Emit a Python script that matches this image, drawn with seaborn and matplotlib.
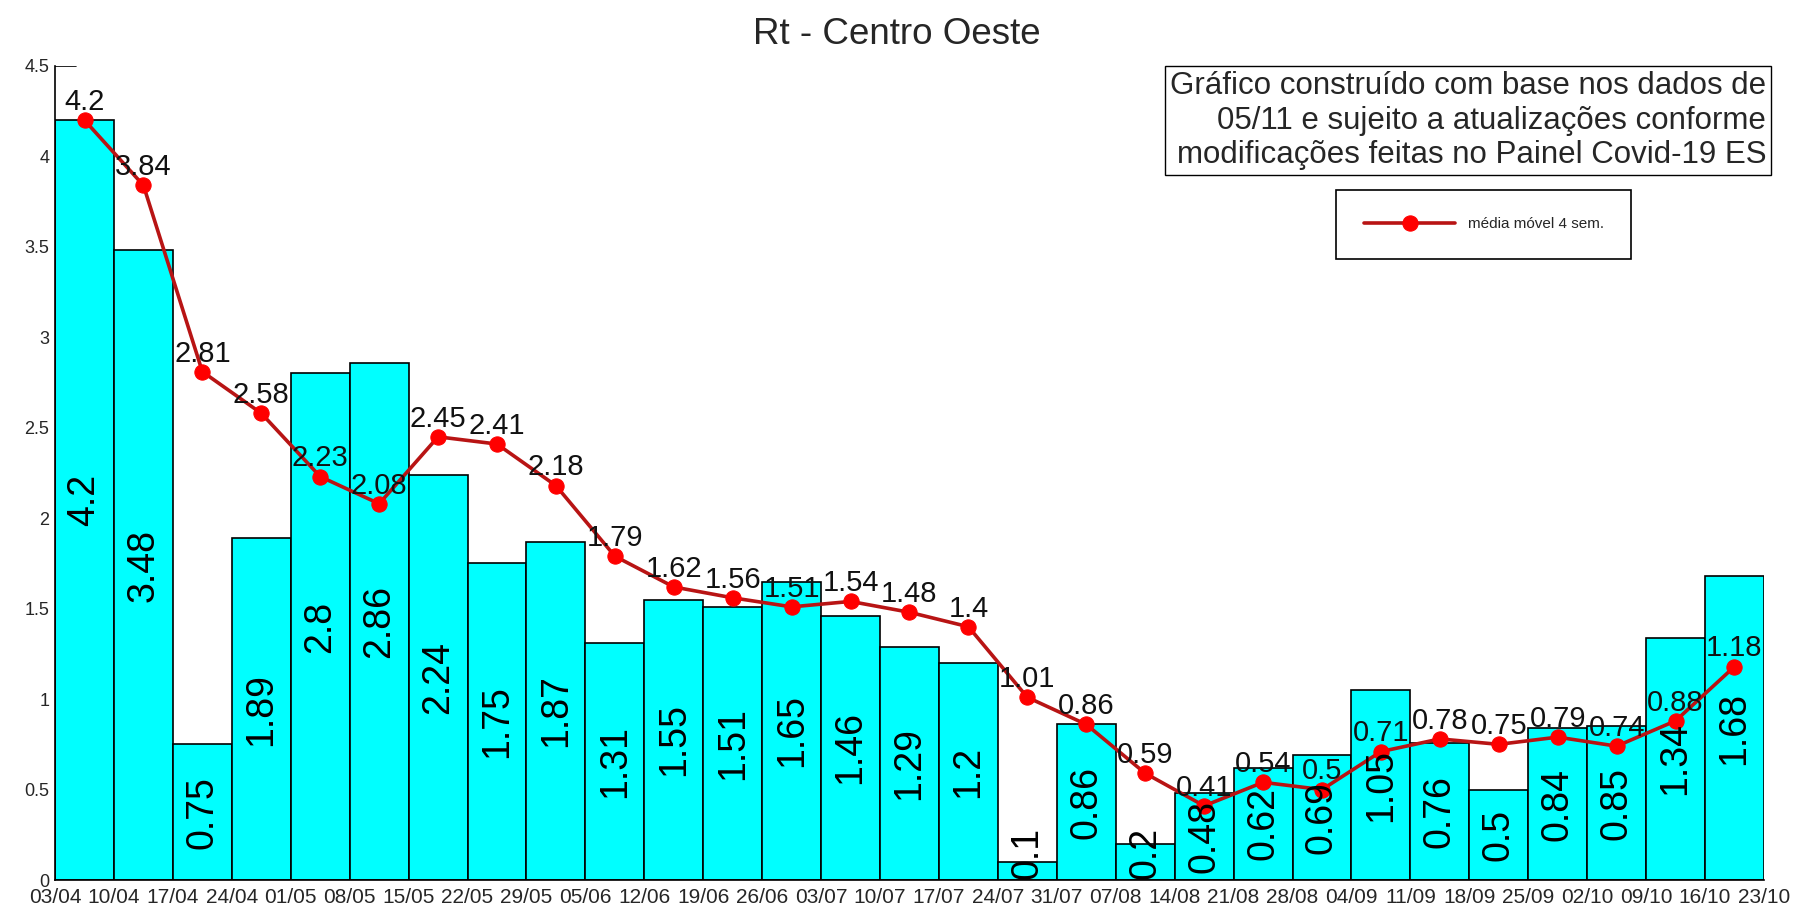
import numpy as np
import pandas as pd
import matplotlib
matplotlib.use("Agg")
import matplotlib.pyplot as plt
import seaborn as sns

# --- data ---
# tick labels sit on the bar edges (30 labels for 29 weekly bars)
datas = ["03/04", "10/04", "17/04", "24/04", "01/05", "08/05", "15/05", "22/05",
         "29/05", "05/06", "12/06", "19/06", "26/06", "03/07", "10/07", "17/07",
         "24/07", "31/07", "07/08", "14/08", "21/08", "28/08", "04/09", "11/09",
         "18/09", "25/09", "02/10", "09/10", "16/10", "23/10"]

rt_semanal = [4.2, 3.48, 0.75, 1.89, 2.8, 2.86, 2.24, 1.75, 1.87, 1.31,
              1.55, 1.51, 1.65, 1.46, 1.29, 1.2, 0.1, 0.86, 0.2, 0.48,
              0.62, 0.69, 1.05, 0.76, 0.5, 0.84, 0.85, 1.34, 1.68]

media_movel = [4.2, 3.84, 2.81, 2.58, 2.23, 2.08, 2.45, 2.41, 2.18, 1.79,
               1.62, 1.56, 1.51, 1.54, 1.48, 1.4, 1.01, 0.86, 0.59, 0.41,
               0.54, 0.5, 0.71, 0.78, 0.75, 0.79, 0.74, 0.88, 1.18]

df = pd.DataFrame({"semana": datas[:-1], "rt": rt_semanal, "media": media_movel})
df["pos"] = np.arange(len(df))

# --- style ---
sns.set_style("white")
plt.rcParams["font.family"] = ["Liberation Sans", "DejaVu Sans"]

fig = plt.figure(figsize=(17.93, 9.11), dpi=100)
ax = fig.add_axes([0.0307, 0.034, 0.9531, 0.8936])

# bars
sns.barplot(data=df, x="semana", y="rt", color="#00FFFF", saturation=1,
            edgecolor="black", linewidth=1.2, width=1.0, ax=ax)
# value in the middle of each bar, kept above the axis for the very short ones
for p, v in zip(df["pos"], df["rt"]):
    ax.text(p, max(v / 2, 0.15), f"{v:g}", rotation=90, ha="center",
            va="center", fontsize=27, color="black")

# moving average line
sns.lineplot(data=df, x="pos", y="media", color="#B81414", linewidth=2.6,
             marker="o", markersize=11, markerfacecolor="#FF0000",
             markeredgecolor="#FF0000", label="média móvel 4 sem.", ax=ax)
for p, v in zip(df["pos"], df["media"]):
    ax.annotate(f"{v:g}", xy=(p, v), xytext=(0, 3), textcoords="offset points",
                ha="center", va="bottom", fontsize=21, color="#111111")

# axes
ax.set_xlim(-0.5, len(df) - 0.5)
ax.set_ylim(0, 4.5)
ax.set_xticks(np.arange(len(datas)) - 0.5)
ax.set_xticklabels(datas, fontsize=15)
ax.set_yticks(np.arange(0, 4.51, 0.5))
ax.set_yticklabels([f"{t:g}" for t in np.arange(0, 4.51, 0.5)], fontsize=13)
ax.tick_params(axis="x", length=0, pad=6)
ax.tick_params(axis="y", length=0, pad=4)
ax.set_xlabel("")
ax.set_ylabel("")
for s in ["top", "right"]:
    ax.spines[s].set_visible(False)
for s in ["left", "bottom"]:
    ax.spines[s].set_color("black")
    ax.spines[s].set_linewidth(1.2)
ax.axhline(4.5, xmin=0, xmax=0.012, color="black", linewidth=1.2)

fig.text(0.5, 0.962, "Rt - Centro Oeste", ha="center", va="center", fontsize=26.5)

# note box
fig.text(0.985, 0.922,
         "Gráfico construído com base nos dados de\n"
         "05/11 e sujeito a atualizações conforme\n"
         "modificações feitas no Painel Covid-19 ES",
         ha="right", va="top", multialignment="right", fontsize=22.5,
         linespacing=1.2,
         bbox=dict(boxstyle="square,pad=0.15", facecolor="white", edgecolor="black"))

leg = ax.legend(loc="upper left", bbox_to_anchor=(0.741, 0.80),
                bbox_transform=fig.transFigure, fontsize=11, frameon=True,
                fancybox=False, framealpha=1, edgecolor="black",
                borderpad=1.8, handlelength=6.0, handletextpad=0.8)
leg.get_frame().set_linewidth(1.2)

fig.savefig("out.png", dpi=100)
